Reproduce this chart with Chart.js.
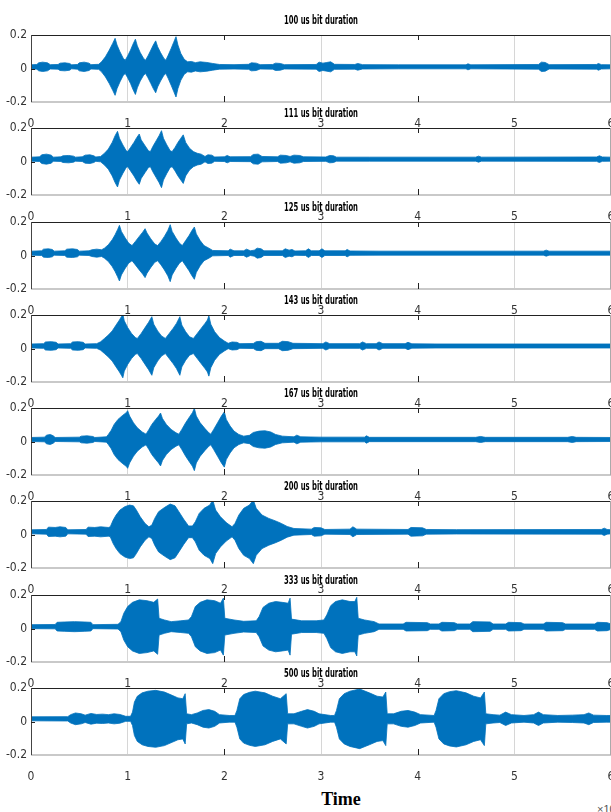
<!DOCTYPE html>
<html>
<head>
<meta charset="utf-8">
<script src="https://cdn.jsdelivr.net/npm/chart.js@4.4.1/dist/chart.umd.min.js"></script>
<style>
  html, body { margin: 0; padding: 0; background: #fff; }
  #fig { position: relative; width: 611px; height: 812px; overflow: hidden; background: #fff; }
  #fig canvas { position: absolute; left: 0; }
  .xlabel { position: absolute; left: 300px; width: 82px; top: 789px; text-align: center;
            font: bold 18px "Liberation Serif", "Times New Roman", serif; color: #000; }
  .xexp { position: absolute; left: 597px; top: 800px; font: 11px "Liberation Sans", sans-serif;
          color: #555; white-space: nowrap; }
</style>
</head>
<body>
<div id="fig">
  <div class="xlabel">Time</div>
  <div class="xexp">×10<sup>-3</sup></div>
</div>
<script>
// panel titles, axis ticks
const titles = ['100 us bit duration', '111 us bit duration', '125 us bit duration', '143 us bit duration',
                '167 us bit duration', '200 us bit duration', '333 us bit duration', '500 us bit duration'];
const xTicks = [0, 1, 2, 3, 4, 5, 6];
const yTicks = [-0.2, 0, 0.2];

// dc offset of each trace
const offsets = [0.01, 0.014, 0.014, 0.015, 0.012, 0.016, 0.011, 0.016];

// envelope of each trace: [time (x10^-3), half amplitude]
const env100 = [[0,0.012],[0.06,0.014],[0.08,0.024],[0.12,0.028],[0.17,0.024],[0.2,0.013],[0.28,0.014],[0.3,0.022],[0.35,0.024],[0.4,0.02],[0.42,0.012],[0.48,0.014],[0.5,0.024],[0.55,0.028],[0.6,0.022],[0.62,0.013],[0.7,0.015],[0.73,0.03],[0.77,0.06],[0.81,0.1],[0.845,0.14],[0.87,0.17],[0.89,0.13],[0.92,0.09],[0.955,0.05],[0.975,0.04],[1.0,0.065],[1.03,0.1],[1.055,0.135],[1.08,0.165],[1.1,0.125],[1.13,0.085],[1.165,0.05],[1.185,0.04],[1.21,0.065],[1.24,0.1],[1.265,0.13],[1.29,0.155],[1.31,0.12],[1.34,0.085],[1.375,0.05],[1.395,0.04],[1.42,0.07],[1.45,0.11],[1.475,0.145],[1.5,0.18],[1.52,0.13],[1.55,0.08],[1.585,0.045],[1.62,0.03],[1.66,0.032],[1.7,0.025],[1.75,0.03],[1.82,0.026],[1.88,0.02],[1.95,0.014],[2.1,0.013],[2.25,0.015],[2.28,0.024],[2.33,0.022],[2.37,0.013],[2.5,0.014],[2.53,0.022],[2.58,0.02],[2.62,0.013],[2.95,0.014],[2.98,0.028],[3.02,0.022],[3.06,0.026],[3.1,0.03],[3.14,0.015],[3.35,0.014],[3.38,0.02],[3.43,0.013],[3.8,0.012],[4.5,0.012],[4.52,0.018],[4.55,0.012],[5.25,0.014],[5.28,0.028],[5.32,0.026],[5.36,0.013],[5.85,0.014],[5.87,0.02],[5.9,0.013],[6,0.012]];
const env111 = [[0,0.012],[0.09,0.014],[0.11,0.026],[0.16,0.03],[0.21,0.024],[0.23,0.012],[0.31,0.014],[0.33,0.02],[0.39,0.022],[0.44,0.018],[0.46,0.012],[0.53,0.014],[0.56,0.024],[0.61,0.026],[0.65,0.02],[0.67,0.013],[0.72,0.016],[0.76,0.035],[0.8,0.06],[0.84,0.1],[0.87,0.14],[0.895,0.166],[0.915,0.125],[0.95,0.085],[0.985,0.05],[1.0,0.045],[1.03,0.07],[1.065,0.1],[1.095,0.13],[1.12,0.15],[1.14,0.115],[1.18,0.08],[1.215,0.05],[1.235,0.045],[1.26,0.075],[1.295,0.11],[1.325,0.14],[1.35,0.17],[1.37,0.125],[1.405,0.085],[1.44,0.05],[1.46,0.045],[1.49,0.07],[1.52,0.1],[1.55,0.125],[1.575,0.145],[1.6,0.1],[1.64,0.065],[1.68,0.045],[1.72,0.035],[1.76,0.03],[1.8,0.016],[1.83,0.026],[1.87,0.024],[1.9,0.013],[2.0,0.014],[2.03,0.022],[2.06,0.014],[2.27,0.015],[2.3,0.028],[2.35,0.03],[2.39,0.016],[2.55,0.014],[2.58,0.024],[2.64,0.022],[2.68,0.016],[2.72,0.024],[2.78,0.022],[2.82,0.014],[3.05,0.013],[3.09,0.022],[3.13,0.02],[3.16,0.012],[3.5,0.012],[4.6,0.012],[4.63,0.018],[4.66,0.012],[5.85,0.013],[5.88,0.02],[5.91,0.013],[6,0.012]];
const env125 = [[0,0.012],[0.11,0.014],[0.13,0.024],[0.18,0.026],[0.22,0.022],[0.24,0.012],[0.35,0.014],[0.37,0.024],[0.43,0.026],[0.48,0.022],[0.5,0.012],[0.6,0.014],[0.63,0.02],[0.68,0.024],[0.73,0.02],[0.76,0.03],[0.8,0.05],[0.84,0.08],[0.87,0.11],[0.895,0.14],[0.915,0.166],[0.935,0.13],[0.97,0.095],[1.01,0.06],[1.045,0.045],[1.08,0.07],[1.12,0.1],[1.155,0.125],[1.18,0.146],[1.2,0.12],[1.24,0.085],[1.28,0.055],[1.31,0.045],[1.345,0.07],[1.38,0.1],[1.415,0.135],[1.44,0.17],[1.46,0.13],[1.5,0.09],[1.535,0.06],[1.565,0.045],[1.6,0.075],[1.635,0.105],[1.665,0.135],[1.69,0.156],[1.71,0.115],[1.75,0.075],[1.79,0.045],[1.84,0.03],[1.88,0.016],[2.04,0.014],[2.06,0.024],[2.1,0.014],[2.2,0.014],[2.23,0.024],[2.27,0.014],[2.31,0.018],[2.34,0.03],[2.38,0.026],[2.41,0.014],[2.6,0.014],[2.63,0.026],[2.67,0.018],[2.7,0.022],[2.73,0.013],[2.84,0.014],[2.87,0.026],[2.9,0.014],[2.98,0.014],[3.01,0.026],[3.04,0.014],[3.25,0.014],[3.27,0.022],[3.3,0.013],[3.6,0.012],[5.3,0.012],[5.33,0.018],[5.36,0.012],[6,0.012]];
const env143 = [[0,0.012],[0.13,0.014],[0.15,0.024],[0.21,0.026],[0.26,0.022],[0.28,0.012],[0.41,0.014],[0.43,0.024],[0.49,0.026],[0.54,0.022],[0.56,0.012],[0.68,0.014],[0.72,0.025],[0.76,0.045],[0.8,0.065],[0.84,0.09],[0.88,0.125],[0.915,0.155],[0.935,0.175],[0.95,0.19],[0.965,0.15],[1.0,0.11],[1.04,0.075],[1.08,0.05],[1.1,0.045],[1.14,0.075],[1.18,0.11],[1.215,0.14],[1.25,0.175],[1.27,0.13],[1.31,0.09],[1.35,0.06],[1.39,0.045],[1.43,0.075],[1.47,0.105],[1.505,0.135],[1.54,0.175],[1.56,0.125],[1.6,0.085],[1.64,0.055],[1.68,0.045],[1.72,0.075],[1.76,0.105],[1.8,0.135],[1.825,0.155],[1.84,0.18],[1.86,0.13],[1.9,0.085],[1.95,0.05],[2.0,0.03],[2.04,0.016],[2.08,0.024],[2.13,0.022],[2.16,0.014],[2.3,0.015],[2.33,0.026],[2.38,0.028],[2.42,0.016],[2.56,0.016],[2.6,0.028],[2.66,0.026],[2.71,0.016],[3.02,0.014],[3.05,0.024],[3.09,0.014],[3.4,0.014],[3.43,0.024],[3.47,0.014],[3.57,0.014],[3.6,0.024],[3.64,0.014],[3.87,0.014],[3.9,0.022],[3.94,0.013],[4.2,0.012],[6,0.012]];
const env167 = [[0,0.012],[0.14,0.014],[0.16,0.026],[0.2,0.03],[0.23,0.022],[0.25,0.012],[0.5,0.014],[0.52,0.02],[0.58,0.022],[0.64,0.018],[0.66,0.012],[0.78,0.016],[0.8,0.03],[0.83,0.055],[0.86,0.09],[0.9,0.12],[0.95,0.145],[0.985,0.16],[1.0,0.172],[1.02,0.14],[1.06,0.1],[1.1,0.07],[1.15,0.045],[1.19,0.032],[1.22,0.06],[1.25,0.09],[1.29,0.12],[1.32,0.14],[1.34,0.158],[1.36,0.125],[1.4,0.09],[1.45,0.06],[1.5,0.04],[1.53,0.032],[1.56,0.06],[1.6,0.1],[1.64,0.135],[1.67,0.16],[1.69,0.186],[1.71,0.14],[1.75,0.1],[1.8,0.065],[1.84,0.04],[1.86,0.032],[1.89,0.06],[1.93,0.1],[1.97,0.14],[2.0,0.165],[2.02,0.12],[2.06,0.08],[2.1,0.05],[2.15,0.03],[2.2,0.02],[2.26,0.025],[2.3,0.042],[2.36,0.05],[2.42,0.052],[2.48,0.045],[2.53,0.03],[2.6,0.02],[2.72,0.016],[2.75,0.026],[2.79,0.016],[3.0,0.014],[3.45,0.014],[3.47,0.022],[3.5,0.013],[4.6,0.013],[4.65,0.018],[4.7,0.013],[5.55,0.013],[5.6,0.018],[5.64,0.013],[6,0.012]];
const env200 = [[0,0.012],[0.16,0.014],[0.18,0.028],[0.25,0.026],[0.3,0.03],[0.36,0.026],[0.38,0.012],[0.57,0.014],[0.59,0.028],[0.66,0.026],[0.72,0.03],[0.8,0.026],[0.82,0.03],[0.85,0.07],[0.88,0.1],[0.92,0.13],[0.97,0.15],[1.02,0.16],[1.06,0.155],[1.09,0.13],[1.13,0.09],[1.18,0.05],[1.22,0.03],[1.25,0.04],[1.28,0.08],[1.32,0.12],[1.38,0.145],[1.44,0.166],[1.49,0.155],[1.53,0.12],[1.58,0.075],[1.63,0.035],[1.67,0.035],[1.7,0.06],[1.74,0.11],[1.79,0.14],[1.85,0.16],[1.88,0.19],[1.91,0.13],[1.96,0.09],[2.02,0.055],[2.08,0.03],[2.11,0.05],[2.15,0.1],[2.2,0.14],[2.26,0.16],[2.3,0.19],[2.33,0.14],[2.39,0.1],[2.46,0.08],[2.53,0.065],[2.59,0.05],[2.65,0.032],[2.72,0.02],[2.9,0.016],[2.93,0.026],[3.0,0.024],[3.04,0.014],[3.3,0.016],[3.33,0.03],[3.37,0.016],[3.9,0.014],[3.93,0.026],[4.05,0.024],[4.09,0.014],[4.4,0.013],[5.9,0.014],[5.93,0.022],[5.96,0.014],[6,0.012]];
const env333 = [[0,0.012],[0.25,0.013],[0.27,0.026],[0.35,0.028],[0.45,0.03],[0.55,0.028],[0.62,0.026],[0.64,0.012],[0.9,0.014],[0.93,0.03],[0.96,0.08],[1.0,0.12],[1.05,0.145],[1.12,0.16],[1.2,0.155],[1.27,0.145],[1.31,0.165],[1.325,0.05],[1.38,0.04],[1.45,0.03],[1.55,0.035],[1.63,0.04],[1.66,0.06],[1.7,0.12],[1.75,0.145],[1.82,0.16],[1.9,0.155],[1.96,0.14],[1.99,0.17],[2.005,0.05],[2.1,0.04],[2.2,0.032],[2.33,0.035],[2.36,0.06],[2.4,0.115],[2.46,0.14],[2.53,0.15],[2.6,0.145],[2.66,0.14],[2.68,0.17],[2.695,0.045],[2.8,0.035],[2.95,0.035],[3.03,0.04],[3.06,0.07],[3.1,0.125],[3.15,0.15],[3.22,0.16],[3.3,0.15],[3.35,0.15],[3.37,0.175],[3.385,0.05],[3.45,0.04],[3.55,0.03],[3.6,0.016],[3.85,0.016],[3.88,0.026],[4.1,0.024],[4.13,0.016],[4.22,0.016],[4.25,0.026],[4.38,0.024],[4.41,0.016],[4.54,0.016],[4.57,0.03],[4.75,0.028],[4.78,0.016],[4.91,0.016],[4.94,0.026],[5.07,0.024],[5.1,0.016],[5.3,0.016],[5.33,0.026],[5.5,0.024],[5.53,0.016],[5.83,0.016],[5.86,0.026],[5.96,0.024],[6,0.016]];
const env500 = [[0,0.012],[0.38,0.013],[0.41,0.025],[0.46,0.035],[0.52,0.03],[0.56,0.022],[0.62,0.032],[0.68,0.026],[0.74,0.028],[0.8,0.025],[0.86,0.03],[0.92,0.026],[0.98,0.015],[1.03,0.015],[1.05,0.04],[1.07,0.1],[1.1,0.135],[1.15,0.155],[1.21,0.165],[1.29,0.17],[1.38,0.16],[1.46,0.14],[1.52,0.125],[1.57,0.12],[1.595,0.15],[1.61,0.03],[1.66,0.025],[1.72,0.035],[1.78,0.05],[1.84,0.055],[1.9,0.045],[1.95,0.025],[2.05,0.02],[2.11,0.02],[2.13,0.05],[2.16,0.12],[2.2,0.145],[2.26,0.158],[2.32,0.165],[2.42,0.155],[2.5,0.135],[2.58,0.12],[2.64,0.15],[2.655,0.03],[2.72,0.03],[2.8,0.045],[2.86,0.055],[2.93,0.045],[2.98,0.03],[3.1,0.02],[3.14,0.02],[3.16,0.05],[3.19,0.12],[3.24,0.15],[3.3,0.165],[3.4,0.178],[3.5,0.155],[3.58,0.135],[3.64,0.13],[3.67,0.16],[3.685,0.03],[3.75,0.03],[3.83,0.045],[3.9,0.05],[3.97,0.04],[4.03,0.025],[4.17,0.02],[4.19,0.05],[4.22,0.12],[4.27,0.15],[4.33,0.162],[4.4,0.168],[4.5,0.155],[4.58,0.135],[4.65,0.125],[4.69,0.16],[4.705,0.03],[4.78,0.025],[4.85,0.022],[4.91,0.04],[4.97,0.025],[5.1,0.02],[5.2,0.025],[5.25,0.04],[5.3,0.025],[5.45,0.02],[5.6,0.022],[5.72,0.025],[5.77,0.035],[5.82,0.022],[5.95,0.02],[6,0.02]];

const envelopes = [env100, env111, env125, env143, env167, env200, env333, env500];

// layout
const panelTops = [35, 128, 222, 315, 408, 501, 595, 688];
const PLOT_H = 67, TOP_PAD = 24, X_AXIS_H = 36, Y_AXIS_W = 31, W = 611;
const TITLE_W = 74;  // titles are squeezed horizontally in the picture
const BLUE = '#0072BD';
const NARROW = "'Liberation Sans Narrow', 'DejaVu Sans Condensed', 'Liberation Sans', sans-serif";

// borders, tick marks and title, drawn like the matlab axes in the picture
const framePlugin = {
    id: 'frame',
    afterDatasetsDraw(chart) {
        const { ctx, chartArea: a, scales } = chart;
        ctx.save();
        // bottom edge (light)
        ctx.strokeStyle = '#c9c9c9';
        ctx.lineWidth = 2;
        ctx.beginPath(); ctx.moveTo(a.left, a.bottom); ctx.lineTo(a.right, a.bottom); ctx.stroke();
        // top edge
        ctx.lineWidth = 1;
        ctx.strokeStyle = '#222';
        ctx.beginPath(); ctx.moveTo(a.left, a.top + 0.5); ctx.lineTo(a.right, a.top + 0.5); ctx.stroke();
        // left edge
        ctx.strokeStyle = '#444';
        ctx.beginPath(); ctx.moveTo(a.left + 0.5, a.top); ctx.lineTo(a.left + 0.5, a.bottom); ctx.stroke();
        // right edge
        ctx.strokeStyle = '#aaa';
        ctx.beginPath(); ctx.moveTo(a.right - 0.5, a.top); ctx.lineTo(a.right - 0.5, a.bottom); ctx.stroke();
        // zero tick on y
        const y0 = Math.round(scales.y.getPixelForValue(0)) + 0.5;
        ctx.strokeStyle = '#222';
        ctx.beginPath(); ctx.moveTo(a.left, y0); ctx.lineTo(a.left + 4, y0); ctx.stroke();
        // dark inward x ticks
        [2, 4].forEach(v => {
            const x = Math.round(scales.x.getPixelForValue(v)) + 0.5;
            ctx.beginPath();
            ctx.moveTo(x, a.top); ctx.lineTo(x, a.top + 5);
            ctx.moveTo(x, a.bottom - 6); ctx.lineTo(x, a.bottom);
            ctx.stroke();
        });
        ctx.restore();
    },
    afterDraw(chart, args, opts) {
        const { ctx, chartArea: a } = chart;
        ctx.save();
        ctx.fillStyle = '#000';
        ctx.font = 'bold 13px ' + NARROW;
        ctx.textAlign = 'center';
        ctx.textBaseline = 'middle';
        const sx = TITLE_W / ctx.measureText(opts.title).width;
        ctx.translate((a.left + a.right) / 2, a.top - 14);
        ctx.scale(sx, 1);
        ctx.fillText(opts.title, 0, 0);
        ctx.restore();
    }
};

const fig = document.getElementById('fig');

envelopes.forEach((env, i) => {
    const canvas = document.createElement('canvas');
    const h = TOP_PAD + PLOT_H + X_AXIS_H;
    canvas.width = W;
    canvas.height = h;
    canvas.style.top = (panelTops[i] - TOP_PAD) + 'px';
    canvas.style.width = W + 'px';
    canvas.style.height = h + 'px';
    fig.appendChild(canvas);

    const base = offsets[i];
    new Chart(canvas, {
        type: 'line',
        data: {
            datasets: [
                {
                    data: env.map(([t, a]) => ({ x: t, y: base + a })),
                    borderColor: BLUE, backgroundColor: BLUE,
                    borderWidth: 0.8, pointRadius: 0, tension: 0, fill: '+1'
                },
                {
                    data: env.map(([t, a]) => ({ x: t, y: base - a })),
                    borderColor: BLUE, backgroundColor: BLUE,
                    borderWidth: 0.8, pointRadius: 0, tension: 0, fill: false
                }
            ]
        },
        options: {
            responsive: false,
            animation: false,
            devicePixelRatio: 1,
            events: [],
            layout: { padding: { top: TOP_PAD, left: 0, right: 0, bottom: 0 } },
            plugins: {
                legend: { display: false },
                tooltip: { enabled: false },
                title: { display: false },
                frame: { title: titles[i] }
            },
            scales: {
                x: {
                    type: 'linear',
                    min: xTicks[0], max: xTicks[xTicks.length - 1],
                    afterBuildTicks: s => { s.ticks = xTicks.map(v => ({ value: v })); },
                    afterFit: s => { s.height = X_AXIS_H; s.paddingLeft = 0; s.paddingRight = 0; },
                    ticks: {
                        autoSkip: false, maxRotation: 0, padding: 15,
                        color: '#333', font: { family: NARROW, size: 12 },
                        callback: v => String(v)
                    },
                    grid: {
                        drawTicks: false,
                        color: c => ([1, 3, 5].includes(c.tick && c.tick.value) ? '#d6d6d6' : 'rgba(0,0,0,0)'),
                        lineWidth: 1
                    },
                    border: { display: false }
                },
                y: {
                    min: yTicks[0], max: yTicks[yTicks.length - 1],
                    afterBuildTicks: s => { s.ticks = yTicks.map(v => ({ value: v })); },
                    afterFit: s => { s.width = Y_AXIS_W; s.paddingTop = 0; s.paddingBottom = 0; },
                    ticks: {
                        padding: 4, color: '#333', font: { family: NARROW, size: 12 },
                        callback: v => (Math.abs(v) < 1e-9 ? '0' : v.toFixed(1))
                    },
                    grid: { display: false, drawTicks: false },
                    border: { display: false }
                }
            }
        },
        plugins: [framePlugin]
    });
});
</script>
</body>
</html>
